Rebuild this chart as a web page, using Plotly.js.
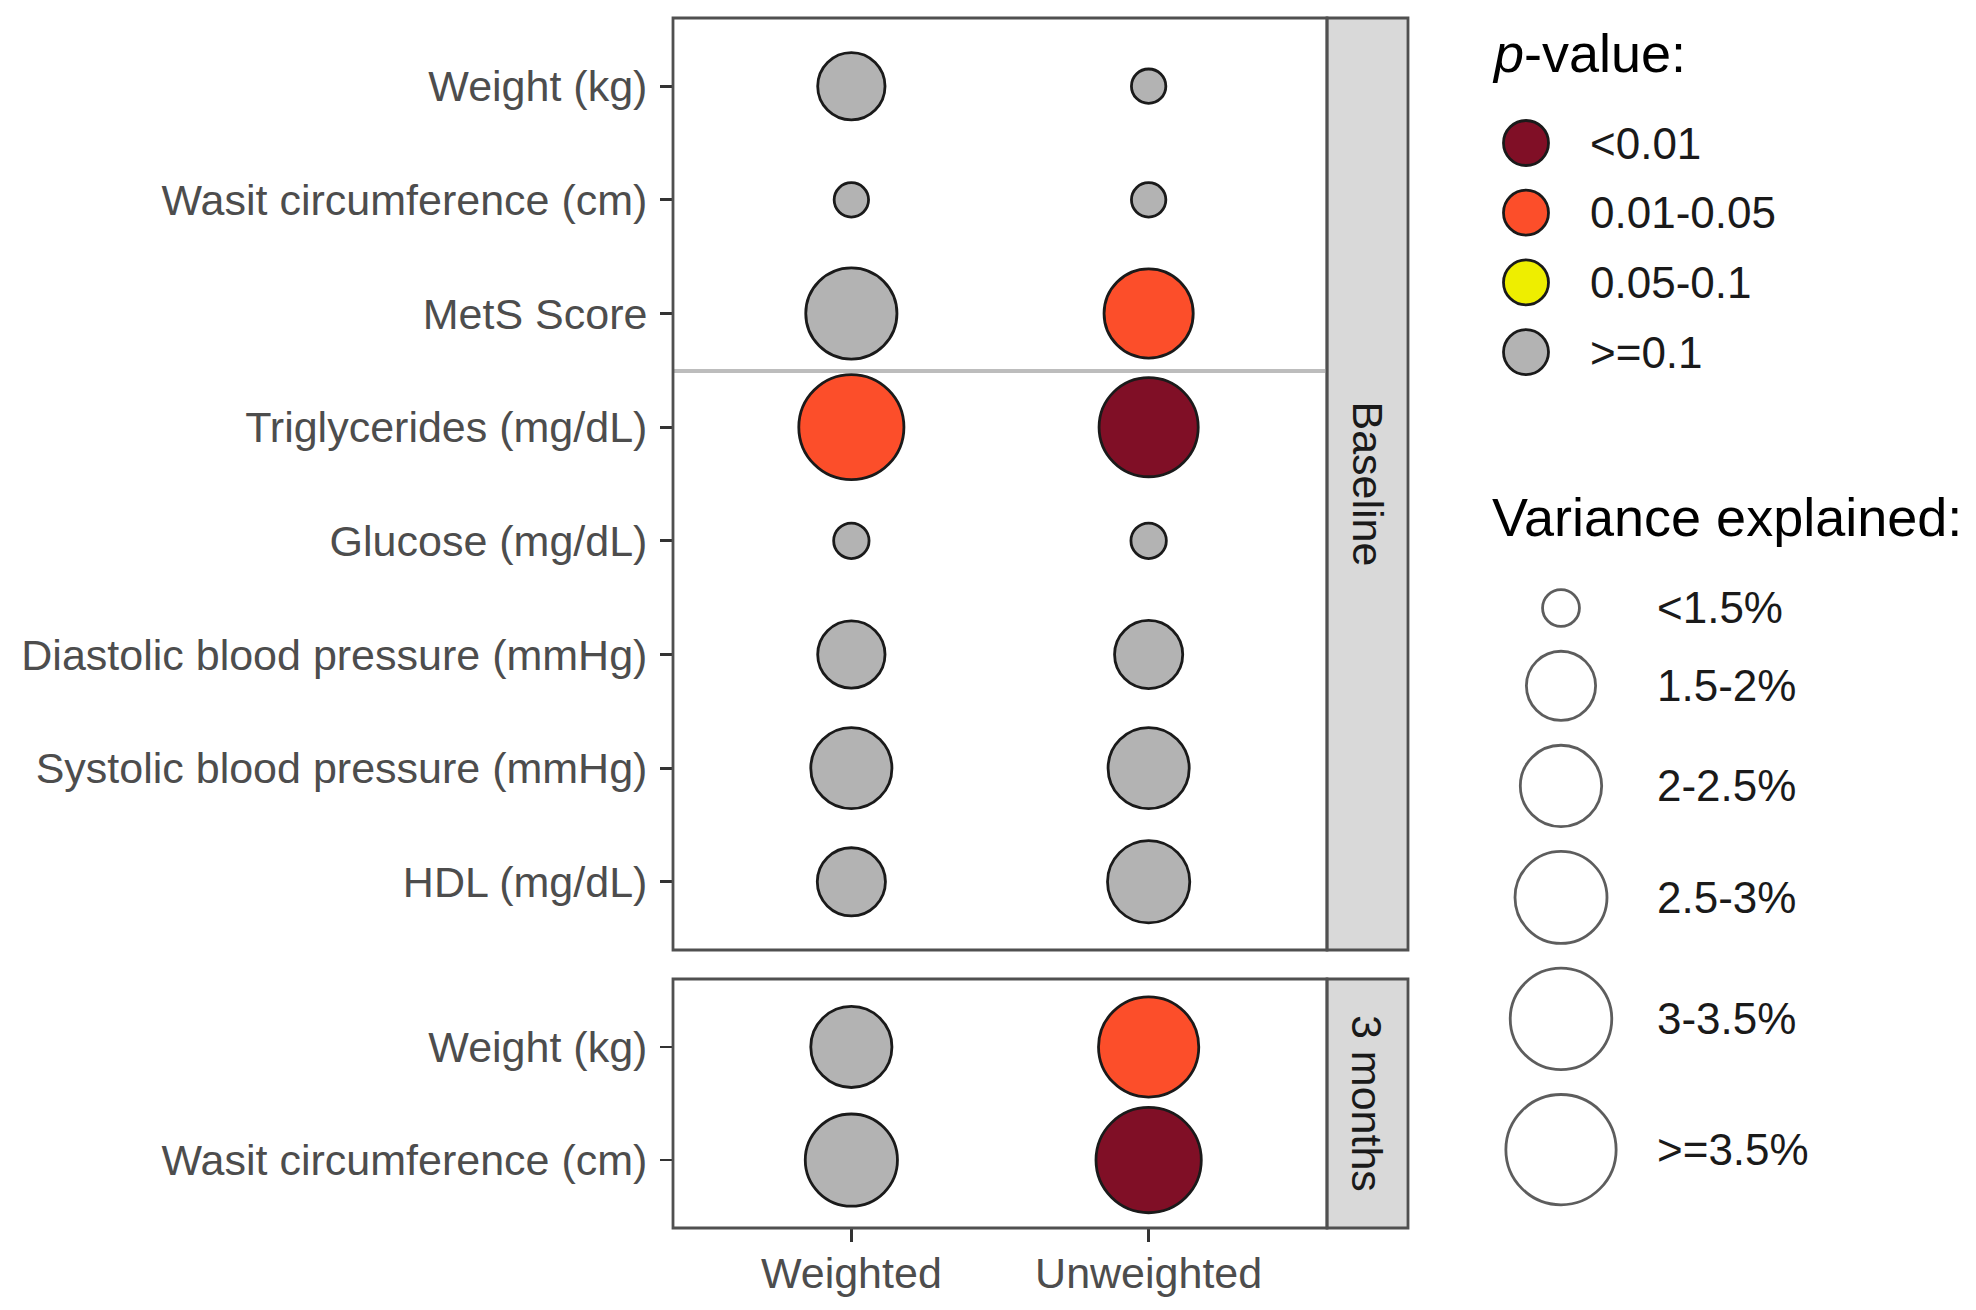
<!DOCTYPE html>
<html>
<head>
<meta charset="utf-8">
<script src="https://cdn.plot.ly/plotly-3.0.1.min.js"></script>
<style>html,body{margin:0;padding:0;background:#fff;}#chart{width:1976px;height:1310px;}</style>
</head>
<body>
<div id="chart"></div>
<script>
// ---------------- data ----------------
const methods = ['Weighted', 'Unweighted'];
const panels = ['Baseline', '3 months'];
const outcomesBaseline = ['Weight (kg)', 'Wasit circumference (cm)', 'MetS Score', 'Triglycerides (mg/dL)',
  'Glucose (mg/dL)', 'Diastolic blood pressure (mmHg)', 'Systolic blood pressure (mmHg)', 'HDL (mg/dL)'];
const outcomes3m = ['Weight (kg)', 'Wasit circumference (cm)'];

// variance explained (%)
const varBaseWeighted   = [1.43, 0.50, 2.46, 3.20, 0.52, 1.43, 1.99, 1.46];
const varBaseUnweighted = [0.50, 0.50, 2.36, 2.87, 0.52, 1.46, 1.99, 2.04];
const var3mWeighted     = [1.99, 2.51];
const var3mUnweighted   = [2.93, 3.21];

// p-value class
const pBaseWeighted   = ['>=0.1', '>=0.1', '>=0.1', '0.01-0.05', '>=0.1', '>=0.1', '>=0.1', '>=0.1'];
const pBaseUnweighted = ['>=0.1', '>=0.1', '0.01-0.05', '<0.01', '>=0.1', '>=0.1', '>=0.1', '>=0.1'];
const p3mWeighted     = ['>=0.1', '>=0.1'];
const p3mUnweighted   = ['0.01-0.05', '<0.01'];

const pCategories = ['<0.01', '0.01-0.05', '0.05-0.1', '>=0.1'];
const pColors     = ['#800F26', '#FC4E2A', '#EEEE00', '#B3B3B3'];
const sizeLabels  = ['<1.5%', '1.5-2%', '2-2.5%', '2.5-3%', '3-3.5%', '>=3.5%'];
const sizeBreaks  = [0.55, 1.5, 2.0, 2.5, 3.0, 3.5];

// ---------------- styling / scales ----------------
const W = 1976, H = 1310;
const LW = 2.8;
const FONT = 'Liberation Sans, Arial, Helvetica, sans-serif';
function diam(v) { return Math.sqrt(3800 * v - 516); }   // area-linear size scale (outer diameter px)
function msize(v) { return diam(v) - LW; }
function pcol(p) { return pColors[pCategories.indexOf(p)]; }
function px(x) { return x / W; }
function py(y) { return 1 - y / H; }

const panelX = [673, 1327];
const stripX = [1327, 1408];
const topY = [18, 950];
const botY = [979, 1228];

function pointTrace(methodIdx, outcomes, vals, ps, xa, ya) {
  return {
    type: 'scatter', mode: 'markers', xaxis: xa, yaxis: ya,
    x: outcomes.map(() => methods[methodIdx]), y: outcomes,
    marker: { size: vals.map(msize), color: ps.map(pcol), line: { color: '#1a1a1a', width: LW }, opacity: 1 },
    hoverinfo: 'skip', showlegend: false, cliponaxis: false
  };
}

const traces = [
  pointTrace(0, outcomesBaseline, varBaseWeighted, pBaseWeighted, 'x2', 'y'),
  pointTrace(1, outcomesBaseline, varBaseUnweighted, pBaseUnweighted, 'x2', 'y'),
  pointTrace(0, outcomes3m, var3mWeighted, p3mWeighted, 'x', 'y2'),
  pointTrace(1, outcomes3m, var3mUnweighted, p3mUnweighted, 'x', 'y2')
];

// ---------------- legends (overlay pixel axes) ----------------
const pKeyX = 1526, pKeyY0 = 143, pKeyStep = 69.7, pLabelX = 1588;
const pKeyY = pCategories.map((_, i) => pKeyY0 + i * pKeyStep);
traces.push({
  type: 'scatter', mode: 'markers', xaxis: 'x3', yaxis: 'y3',
  x: pCategories.map(() => pKeyX), y: pKeyY,
  marker: { size: 45, color: pColors, line: { color: '#1a1a1a', width: LW } },
  hoverinfo: 'skip', showlegend: false, cliponaxis: false
});
const sKeyX = 1561, sLabelX = 1655, sGap = 22;
const sKeyY = [];
sizeBreaks.forEach((b, i) => {
  if (i === 0) sKeyY.push(608);
  else sKeyY.push(sKeyY[i - 1] + (diam(sizeBreaks[i - 1]) + diam(b)) / 2 + sGap);
});
traces.push({
  type: 'scatter', mode: 'markers', xaxis: 'x3', yaxis: 'y3',
  x: sizeBreaks.map(() => sKeyX), y: sKeyY,
  marker: { size: sizeBreaks.map(msize), color: 'rgba(255,255,255,0)', line: { color: '#1a1a1a', width: LW } },
  hoverinfo: 'skip', showlegend: false, cliponaxis: false
});

const annotations = [];
function ann(text, x, y, opts) {
  annotations.push(Object.assign({
    text: text, xref: 'paper', yref: 'paper', x: px(x), y: py(y), showarrow: false,
    xanchor: 'left', yanchor: 'middle', font: { family: FONT, size: 44, color: '#1a1a1a' }
  }, opts || {}));
}
ann('<i>p</i>-value:', 1490, 53, { font: { family: FONT, size: 54, color: '#000' } });
ann('Variance explained:', 1490, 517, { font: { family: FONT, size: 54, color: '#000' } });
pCategories.forEach((c, i) => ann(c, pLabelX, pKeyY[i]));
sizeLabels.forEach((c, i) => ann(c, sLabelX, sKeyY[i]));
// strip labels
ann(panels[0], (stripX[0] + stripX[1]) / 2, (topY[0] + topY[1]) / 2,
  { xanchor: 'center', textangle: 90, font: { family: FONT, size: 43, color: '#1A1A1A' } });
ann(panels[1], (stripX[0] + stripX[1]) / 2, (botY[0] + botY[1]) / 2,
  { xanchor: 'center', textangle: 90, font: { family: FONT, size: 43, color: '#1A1A1A' } });

const border = { color: '#505050', width: 2.8 };
const shapes = [
  { type: 'rect', xref: 'paper', yref: 'paper', x0: px(stripX[0]), x1: px(stripX[1]), y0: py(topY[0]), y1: py(topY[1]),
    fillcolor: '#D9D9D9', line: border, layer: 'below' },
  { type: 'rect', xref: 'paper', yref: 'paper', x0: px(stripX[0]), x1: px(stripX[1]), y0: py(botY[0]), y1: py(botY[1]),
    fillcolor: '#D9D9D9', line: border, layer: 'below' },
  { type: 'line', xref: 'paper', yref: 'paper', x0: px(panelX[0]), x1: px(panelX[1]), y0: py(371), y1: py(371),
    line: { color: '#BDBDBD', width: 4 }, layer: 'below' },
  { type: 'rect', xref: 'paper', yref: 'paper', x0: px(panelX[0]), x1: px(panelX[1]), y0: py(topY[0]), y1: py(topY[1]),
    line: border, layer: 'above' },
  { type: 'rect', xref: 'paper', yref: 'paper', x0: px(panelX[0]), x1: px(panelX[1]), y0: py(botY[0]), y1: py(botY[1]),
    line: border, layer: 'above' }
];

const tickFont = { family: FONT, size: 43, color: '#4D4D4D' };
const xDomain = [px(panelX[0]), px(panelX[1])];
const baseAxis = { showgrid: false, zeroline: false, showline: false, fixedrange: true };

const layout = {
  width: W, height: H, margin: { l: 0, r: 0, t: 0, b: 0, pad: 0 },
  paper_bgcolor: '#fff', plot_bgcolor: 'rgba(0,0,0,0)', showlegend: false, hovermode: false,
  font: { family: FONT },
  xaxis: Object.assign({}, baseAxis, {
    domain: xDomain, anchor: 'y2', type: 'category', categoryorder: 'array', categoryarray: methods,
    range: [-0.6, methods.length - 0.4], ticks: 'outside', ticklen: 13, tickwidth: 2.8, tickcolor: '#333',
    tickfont: tickFont, ticklabelstandoff: -6
  }),
  xaxis2: Object.assign({}, baseAxis, {
    domain: xDomain, anchor: 'y', type: 'category', categoryorder: 'array', categoryarray: methods,
    range: [-0.6, methods.length - 0.4], showticklabels: false, ticks: ''
  }),
  yaxis: Object.assign({}, baseAxis, {
    domain: [py(topY[1]), py(topY[0])], anchor: 'x2', type: 'category', categoryorder: 'array',
    categoryarray: outcomesBaseline, range: [outcomesBaseline.length - 0.4, -0.6],
    ticks: 'outside', ticklen: 12, tickwidth: 2.8, tickcolor: '#333', tickfont: tickFont, ticklabelstandoff: 4
  }),
  yaxis2: Object.assign({}, baseAxis, {
    domain: [py(botY[1]), py(botY[0])], anchor: 'x', type: 'category', categoryorder: 'array',
    categoryarray: outcomes3m, range: [outcomes3m.length - 0.4, -0.6],
    ticks: 'outside', ticklen: 12, tickwidth: 2.8, tickcolor: '#333', tickfont: tickFont, ticklabelstandoff: 4
  }),
  xaxis3: { domain: [0, 1], anchor: 'y3', range: [0, W], visible: false, fixedrange: true },
  yaxis3: { domain: [0, 1], anchor: 'x3', range: [H, 0], visible: false, fixedrange: true },
  shapes: shapes,
  annotations: annotations
};

Plotly.newPlot('chart', traces, layout, { staticPlot: true, displayModeBar: false });
</script>
</body>
</html>
